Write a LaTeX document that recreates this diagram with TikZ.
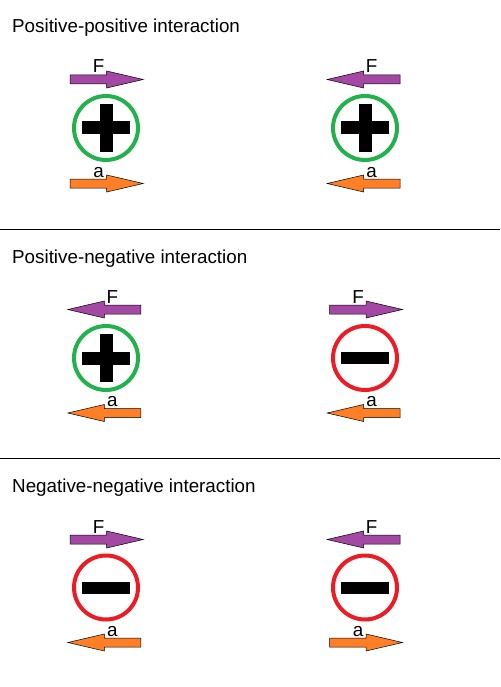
\documentclass[tikz,border=0pt]{standalone}
\usepackage{fontspec}
\setmainfont{Liberation Sans}
\usetikzlibrary{positioning,calc}

\definecolor{forcepurple}{RGB}{163,73,164}
\definecolor{accorange}{RGB}{255,127,39}
\definecolor{posgreen}{RGB}{34,177,76}
\definecolor{negred}{RGB}{237,28,36}

\tikzset{
  lbl/.style={anchor=base, inner sep=0pt, font=\fontsize{18.8}{22}\selectfont},
  paneltitle/.style={anchor=base west, inner sep=0pt, font=\fontsize{18.8}{22}\selectfont},
  charge/.style={circle, draw=#1, line width=4pt, minimum size=64pt, inner sep=0pt},
}

% x, y, direction (1 right, -1 left), colour, label, name
\newcommand{\blockarrow}[6]{%
  \begin{scope}[shift={({#1+1.2*(#3)},#2)}, xscale=#3]
    \draw[fill=#4, line width=0.5pt] (-36.5,-4.5) -- (0,-4.5) -- (0,-8.5) -- (36.5,0)
      -- (0,8.5) -- (0,4.5) -- (-36.5,4.5) -- cycle;
  \end{scope}
  \node[lbl] (#6) at ({#1+1.2*(#3)-8*(#3)},{#2-6.5}) {#5};
}
\newcommand{\plussign}[1]{%
  \fill ($(#1)+(-24,-6.5)$) rectangle ++(48,13);
  \fill ($(#1)+(-6.5,-24)$) rectangle ++(13,48);
}
\newcommand{\minussign}[1]{%
  \fill ($(#1)+(-24,-6)$) rectangle ++(48,12);
}

\begin{document}
\begin{tikzpicture}[x=1pt,y=-1pt]
  \useasboundingbox (0,0) rectangle (500,687);

  \node[paneltitle] (t1) at (12,33) {Positive-positive interaction};
  \node[paneltitle] (t2) at (12,263) {Positive-negative interaction};
  \node[paneltitle] (t3) at (12,492.5) {Negative-negative interaction};

  \draw[line width=1pt] (0,229.5) -- (500,229.5);
  \draw[line width=1pt] (0,458.5) -- (500,458.5);

  % positive-positive
  \blockarrow{105.5}{79.5}{1}{forcepurple}{F}{f11}
  \node[charge=posgreen] (q11) at (106,128) {};
  \plussign{q11}
  \blockarrow{105.5}{183.5}{1}{accorange}{a}{a11}
  \blockarrow{364.8}{79.5}{-1}{forcepurple}{F}{f12}
  \node[charge=posgreen] (q12) at (365,128) {};
  \plussign{q12}
  \blockarrow{364.8}{183.5}{-1}{accorange}{a}{a12}

  % positive-negative
  \blockarrow{105.5}{309.5}{-1}{forcepurple}{F}{f21}
  \node[charge=posgreen] (q21) at (106,358) {};
  \plussign{q21}
  \blockarrow{105.5}{413}{-1}{accorange}{a}{a21}
  \blockarrow{364.8}{309.5}{1}{forcepurple}{F}{f22}
  \node[charge=negred] (q22) at (365,358) {};
  \minussign{q22}
  \blockarrow{364.8}{413}{-1}{accorange}{a}{a22}

  % negative-negative
  \blockarrow{105.5}{539.5}{1}{forcepurple}{F}{f31}
  \node[charge=negred] (q31) at (106,587.5) {};
  \minussign{q31}
  \blockarrow{105.5}{642.5}{-1}{accorange}{a}{a31}
  \blockarrow{364.8}{539.5}{-1}{forcepurple}{F}{f32}
  \node[charge=negred] (q32) at (365,587.5) {};
  \minussign{q32}
  \blockarrow{364.8}{642.5}{1}{accorange}{a}{a32}
\end{tikzpicture}
\end{document}
